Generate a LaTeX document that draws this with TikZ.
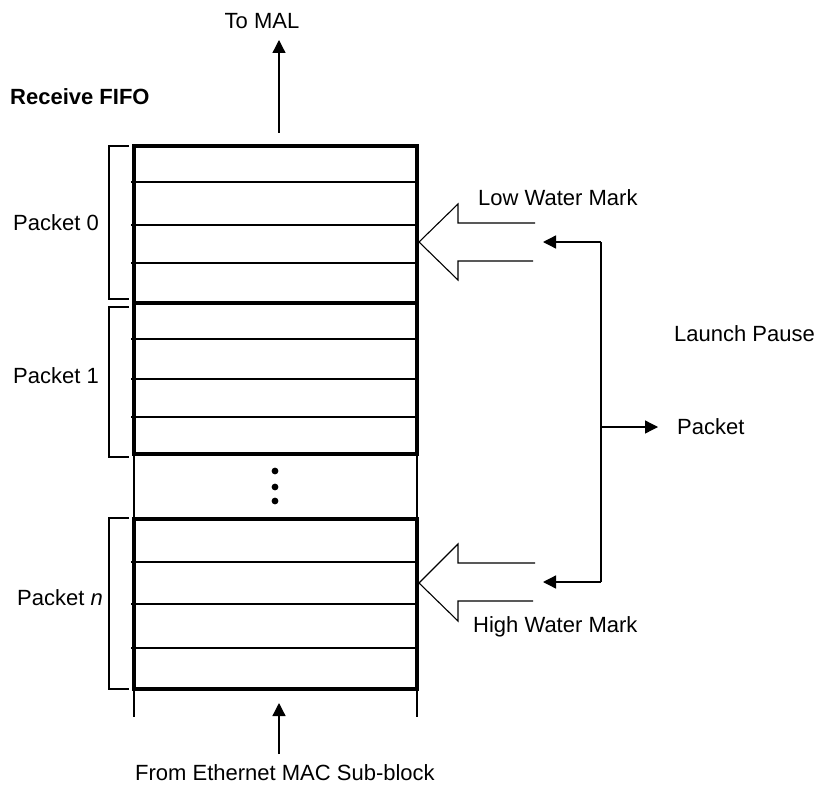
\documentclass[tikz,border=0pt]{standalone}
\usepackage{fontspec}
\setmainfont{Liberation Sans}
\usetikzlibrary{arrows.meta}
\begin{document}
\begin{tikzpicture}[x=1pt,y=-1pt,
  thickbox/.style={draw, line width=3.8pt, inner sep=0pt, outer sep=0pt, anchor=north west, minimum width=283pt},
  thinln/.style={line width=1.2pt},
  lbl/.style={inner sep=0pt, font=\fontsize{22}{26}\selectfont},
  tipln/.style={-{Triangle[length=13pt,width=13pt]}, line width=1.3pt},
  hollow/.style={line width=1.1pt, line join=miter}]
\useasboundingbox (0,0) rectangle (818,786);

% thin row separators
\foreach \yy in {182,225,263,339,379,417,562,604,648}
  \draw[thinln] (131,\yy) -- (417,\yy);

% packet boxes
\node[thickbox, minimum height=157pt] (p0) at (134,146) {};
\node[thickbox, minimum height=151pt] (p1) at (134,303) {};
\node[thickbox, minimum height=170pt] (pn) at (134,519) {};

% thin side continuations
\coordinate (bl) at (134,717);
\coordinate (br) at (417,717);
\draw[thinln] (p1.south west) -- (pn.north west);
\draw[thinln] (p1.south east) -- (pn.north east);
\draw[thinln] (pn.south west) -- (bl);
\draw[thinln] (pn.south east) -- (br);

% dots
\fill (275,471) circle (3.4pt);
\fill (275,487) circle (3.4pt);
\fill (275,501) circle (3.4pt);

% brackets
\draw[thinln] (129,146) -- (109,146) -- (109,299) -- (129,299);
\draw[thinln] (129,307) -- (109,307) -- (109,457) -- (129,457);
\draw[thinln] (129,518) -- (109,518) -- (109,689) -- (129,689);

% labels left
\node[lbl, anchor=west] (l0) at (13,223) {Packet 0};
\node[lbl, anchor=west] (l1) at (13,376) {Packet 1};
\node[lbl, anchor=west] (ln) at (17,598) {Packet \textit{n}};
\node[lbl, anchor=west, font=\fontsize{22}{26}\selectfont\bfseries] (title) at (10,97) {Receive FIFO};

% top and bottom arrows
\node[lbl] (tomal) at (262,21) {To MAL};
\coordinate (a0) at (279,133);
\coordinate (a1) at (279,40);
\draw[tipln] (a0) -- (a1);
\node[lbl, anchor=west] (from) at (135,773) {From Ethernet MAC Sub-block};
\coordinate (b0) at (279,754);
\coordinate (b1) at (279,703);
\draw[tipln] (b0) -- (b1);

% hollow arrows
\draw[hollow] (535,223) -- (458,223) -- (458,204) -- (419,242) -- (458,280) -- (458,261) -- (533,261);
\draw[hollow] (535,563) -- (458,563) -- (458,544) -- (419,583) -- (458,621) -- (458,601) -- (533,601);

% right side
\node[lbl, anchor=west] (low) at (478,198) {Low Water Mark};
\node[lbl, anchor=west] (high) at (473,627) {High Water Mark};
\node[lbl, anchor=west] (launch) at (674,334) {Launch Pause};
\node[lbl, anchor=west] (pkt) at (677,427) {Packet};
\coordinate (lw) at (543,242);
\coordinate (hw) at (543,582);
\coordinate (jt) at (601,242);
\coordinate (jb) at (601,582);
\coordinate (jm) at (601,427);
\coordinate (pk) at (658,427);
\draw[thinln] (jt) -- (jb);
\draw[tipln] (jt) -- (lw);
\draw[tipln] (jb) -- (hw);
\draw[tipln] (jm) -- (pk);
\end{tikzpicture}
\end{document}
